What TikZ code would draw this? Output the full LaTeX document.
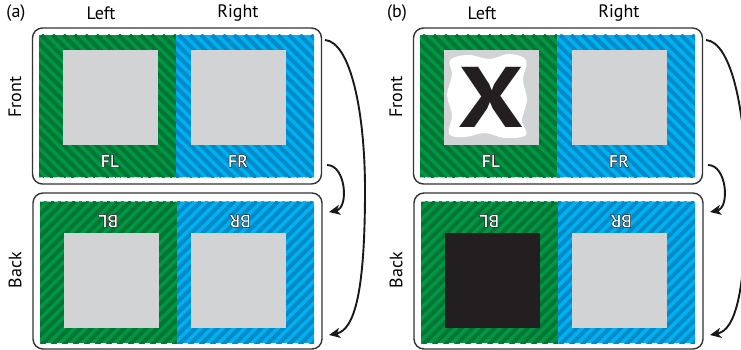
\documentclass[tikz,border=0pt]{standalone}
\usepackage{fontspec}
\setmainfont{PT Sans}
\usetikzlibrary{arrows.meta,positioning,calc}
\definecolor{grn}{RGB}{0,150,70}
\definecolor{grndark}{RGB}{0,118,52}
\definecolor{blu}{RGB}{0,176,240}
\definecolor{bludark}{RGB}{0,138,200}
\definecolor{sqgray}{RGB}{209,211,212}
\definecolor{ink}{RGB}{35,31,32}
% white letters with a thin dark outline (fill + stroke render mode)
\newcommand{\outlined}[1]{\special{pdf:literal direct 2 Tr 0.55 w 0.15 0.15 0.15 RG}#1\special{pdf:literal direct 0 Tr}}
% striped half of a card: x1, y1, x2, y2, base, stripe, direction
\newcommand{\hatch}[7]{%
  \begin{scope}
    \clip (#1,#2) rectangle (#3,#4);
    \fill[#5] (#1,#2) rectangle (#3,#4);
    \foreach \s in {-308,-297,...,308}
      \draw[#6, line width=3.9pt] ({(#1+#3)/2+\s},#2) -- ++({#7*170},170);
  \end{scope}}
\tikzset{
  card/.style={rectangle, rounded corners=10pt, draw=black!80, line width=1.4pt,
    fill=white, minimum width=289pt, minimum height=156pt, inner sep=0pt},
  sq/.style={rectangle, fill=sqgray, minimum size=95pt, inner sep=0pt},
  head/.style={font=\fontsize{18}{18}\selectfont, inner sep=0pt},
  tag/.style={font=\bfseries\fontsize{18}{18}\selectfont, text=white, inner sep=0pt},
  fold/.style={draw=black!25, dash pattern=on 4pt off 3pt, line width=0.8pt},
  flip/.style={-{Stealth[length=11pt,width=10pt,inset=3pt]}, line width=1.9pt, draw=black!90},
}

\begin{document}
\begin{tikzpicture}[x=1pt, y=-1pt]
  \useasboundingbox (0,0) rectangle (741,350);
  \foreach \p/\dx in {a/0,b/381}{
  \begin{scope}[xshift=\dx]
    \node[head] (tag\p) at (16,13) {(\p)};
    \node[head] (left\p) at (101,13) {Left};
    \node[head] (right\p) at (238,13) {Right};
    \node[head, rotate=90] (fside\p) at (15,97) {Front};
    \node[head, rotate=90] (bside\p) at (15,270) {Back};
    \node[card] (front\p) at (177,106) {};
    \node[card] (back\p) at (177.5,271) {};
    \hatch{39}{35}{176}{177}{grn}{grndark}{1}
    \hatch{176}{35}{314}{177}{blu}{bludark}{1}
    \hatch{40}{201}{177}{343}{grn}{grndark}{-1}
    \hatch{177}{201}{314}{343}{blu}{bludark}{-1}
    \draw[fold] (39,177) -- (314,177);
    \draw[fold] (40,201) -- (314,201);
    \node[sq] (fl\p) at (110.5,97.5) {};
    \node[sq] (fr\p) at (238.5,97.5) {};
    \node[sq] (bl\p) at (111.5,280.5) {};
    \node[sq] (br\p) at (238.5,280.5) {};
    \node[tag] (flt\p) at (110,161) {\outlined{FL}};
    \node[tag] (frt\p) at (238,161) {\outlined{FR}};
    \node[tag, rotate=180] (blt\p) at (108,221) {\outlined{BL}};
    \node[tag, rotate=180] (brt\p) at (240,221) {\outlined{BR}};
    \coordinate (go\p) at (325,40);
    \coordinate (mid\p) at (365,190);
    \coordinate (end\p) at (329,335);
    \coordinate (fgo\p) at (327,165);
    \coordinate (fend\p) at (329,212);
    \draw[flip] (go\p) .. controls (350,42) and (365,110) .. (mid\p)
      .. controls (365,290) and (355,330) .. (end\p);
    \draw[flip] (fgo\p) .. controls (346,165) and (349,208) .. (fend\p);
  \end{scope}
  }
  % the marked card
  \fill[white] plot[smooth cycle, tension=0.6] coordinates {(450,60) (468,55) (490,59)
    (508,54) (526,60) (523,80) (527,100) (522,120) (526,135) (505,138) (485,133)
    (465,137) (449,134) (452,115) (447,95) (452,75)};
  \node[inner sep=0pt, text=ink, font=\bfseries\fontsize{86}{86}\selectfont] (cross) at (flb) {\scalebox{1.2}[1]{X}};
  \node[sq, fill=ink] (blackout) at (blb) {};
\end{tikzpicture}
\end{document}
